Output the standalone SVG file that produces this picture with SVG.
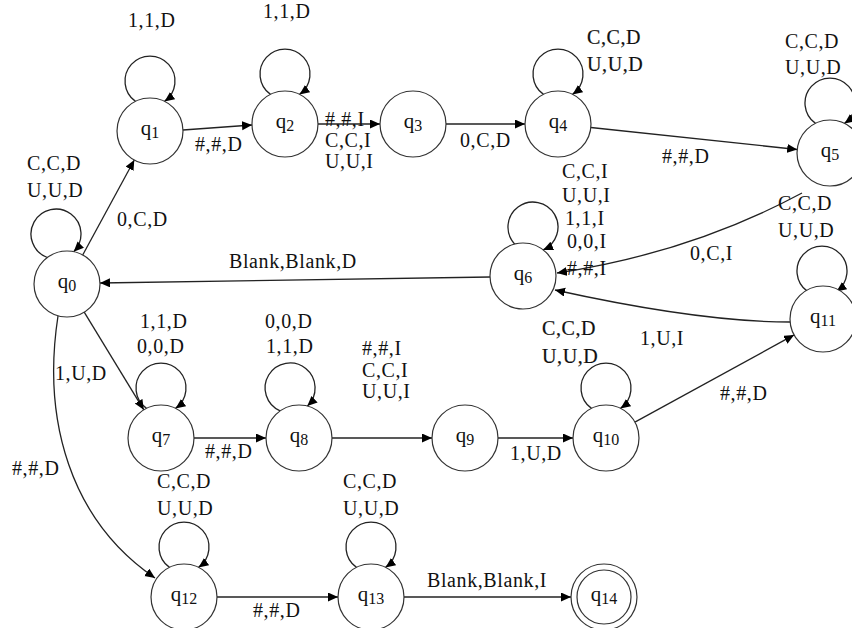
<svg xmlns="http://www.w3.org/2000/svg" width="852" height="628" viewBox="0 0 852 628">
<defs>
<marker id="ah" markerUnits="userSpaceOnUse" markerWidth="11" markerHeight="10" refX="10" refY="4.5" orient="auto">
<path d="M0,0 L10,4.5 L0,9 z" fill="#000"/>
</marker>
</defs>
<style>
.n circle{fill:#fff;stroke:#333;stroke-width:1.2}
.n text{font-family:"Liberation Serif",serif;font-size:21px;fill:#111;text-anchor:middle}
.n tspan{font-size:16px}
#edges path,#edges line{fill:none;stroke:#222;stroke-width:1.3;marker-end:url(#ah)}
.lb{font-family:"Liberation Serif",serif;font-size:20px;letter-spacing:0.6px;fill:#111}
.dk{stroke:#111;stroke-width:0.2}
</style>
<rect width="852" height="628" fill="#fff"/>

<g id="edges">
<!-- self loops -->
<path d="M47.3,257.5 A25,25 0 1 1 73.7,251.7"/>
<path d="M135.5,101.4 A25,25 0 1 1 164.5,101.4"/>
<path d="M270.5,94.4 A25,25 0 1 1 299.5,94.4"/>
<path d="M543.5,94.4 A25,25 0 1 1 572.5,94.4"/>
<path d="M815.5,123.4 A25,25 0 1 1 844.5,123.4"/>
<path d="M514.7,244.1 A25,25 0 1 1 543.1,249.9"/>
<path d="M807.5,291.4 A25,25 0 1 1 836.5,291.4"/>
<path d="M146.5,408.4 A25,25 0 1 1 175.5,408.4"/>
<path d="M280.1,410.9 A25,25 0 1 1 307.3,406.1"/>
<path d="M591.5,408.4 A25,25 0 1 1 620.5,408.4"/>
<path d="M169.5,567.4 A25,25 0 1 1 198.5,567.4"/>
<path d="M356.5,567.4 A25,25 0 1 1 385.5,567.4"/>
<!-- transitions -->
<line x1="82.7" y1="255" x2="134.3" y2="160"/>
<line x1="183" y1="130" x2="252" y2="125"/>
<line x1="318" y1="124" x2="380" y2="124"/>
<line x1="446" y1="124" x2="525" y2="124"/>
<line x1="590.8" y1="127.5" x2="797.2" y2="149.5"/>
<path d="M802,193 Q690,253 557,273"/>
<path d="M790,322 Q700,322 555,290"/>
<line x1="490" y1="277" x2="100" y2="283"/>
<line x1="84.2" y1="312.2" x2="143.8" y2="409.8"/>
<line x1="194" y1="438" x2="266" y2="438"/>
<line x1="332" y1="438" x2="432" y2="438"/>
<line x1="498" y1="438" x2="573" y2="438"/>
<line x1="634.9" y1="422.1" x2="794.1" y2="334.9"/>
<path d="M58,316 C42,420 70,520 155,578"/>
<line x1="217" y1="597" x2="338" y2="597"/>
<line x1="404" y1="597" x2="571" y2="597"/>
</g>

<g id="q0" class="n"><circle cx="67" cy="284" r="33"/><text x="67" y="288">q<tspan dy="3">0</tspan></text></g>
<g id="q1" class="n"><circle cx="150" cy="131" r="33"/><text x="150" y="135">q<tspan dy="3">1</tspan></text></g>
<g id="q2" class="n"><circle cx="285" cy="124" r="33"/><text x="285" y="128">q<tspan dy="3">2</tspan></text></g>
<g id="q3" class="n"><circle cx="413" cy="124" r="33"/><text x="413" y="128">q<tspan dy="3">3</tspan></text></g>
<g id="q4" class="n"><circle cx="558" cy="124" r="33"/><text x="558" y="128">q<tspan dy="3">4</tspan></text></g>
<g id="q5" class="n"><circle cx="830" cy="153" r="33"/><text x="830" y="157">q<tspan dy="3">5</tspan></text></g>
<g id="q6" class="n"><circle cx="523" cy="276" r="33"/><text x="523" y="280">q<tspan dy="3">6</tspan></text></g>
<g id="q7" class="n"><circle cx="161" cy="438" r="33"/><text x="161" y="442">q<tspan dy="3">7</tspan></text></g>
<g id="q8" class="n"><circle cx="299" cy="438" r="33"/><text x="299" y="442">q<tspan dy="3">8</tspan></text></g>
<g id="q9" class="n"><circle cx="465" cy="438" r="33"/><text x="465" y="442">q<tspan dy="3">9</tspan></text></g>
<g id="q10" class="n"><circle cx="606" cy="438" r="33"/><text x="606" y="442">q<tspan dy="3">10</tspan></text></g>
<g id="q11" class="n"><circle cx="823" cy="319" r="33"/><text x="823" y="323">q<tspan dy="3">11</tspan></text></g>
<g id="q12" class="n"><circle cx="184" cy="597" r="33"/><text x="184" y="601">q<tspan dy="3">12</tspan></text></g>
<g id="q13" class="n"><circle cx="371" cy="597" r="33"/><text x="371" y="601">q<tspan dy="3">13</tspan></text></g>
<g id="q14" class="n"><circle cx="604" cy="597" r="33"/><circle cx="604" cy="597" r="27"/><text x="604" y="601">q<tspan dy="3">14</tspan></text></g>

<g id="labels" class="lb">
<text x="128" y="27">1,1,D</text>
<text x="263" y="18">1,1,D</text>
<text x="195" y="151">#,#,D</text>
<text x="325" y="126">#,#,I</text>
<text x="325" y="147">C,C,I</text>
<text x="325" y="168">U,U,I</text>
<text x="460" y="147">0,C,D</text>
<text x="587" y="44" class="dk">C,C,D</text>
<text x="587" y="71" class="dk">U,U,D</text>
<text x="785" y="48">C,C,D</text>
<text x="785" y="74">U,U,D</text>
<text x="662" y="163">#,#,D</text>
<text x="27" y="170">C,C,D</text>
<text x="27" y="197">U,U,D</text>
<text x="117" y="226">0,C,D</text>
<text x="229" y="268">Blank,Blank,D</text>
<text x="562" y="178">C,C,I</text>
<text x="562" y="202">U,U,I</text>
<text x="565" y="225">1,1,I</text>
<text x="567" y="248">0,0,I</text>
<text x="567" y="275">#,#,I</text>
<text x="690" y="260">0,C,I</text>
<text x="778" y="210">C,C,D</text>
<text x="778" y="237">U,U,D</text>
<text x="640" y="345">1,U,I</text>
<text x="140" y="328">1,1,D</text>
<text x="137" y="353">0,0,D</text>
<text x="265" y="328">0,0,D</text>
<text x="266" y="353">1,1,D</text>
<text x="205" y="458">#,#,D</text>
<text x="362" y="355">#,#,I</text>
<text x="362" y="377">C,C,I</text>
<text x="362" y="398">U,U,I</text>
<text x="55" y="380">1,U,D</text>
<text x="542" y="335" class="dk">C,C,D</text>
<text x="542" y="363" class="dk">U,U,D</text>
<text x="510" y="460">1,U,D</text>
<text x="720" y="400">#,#,D</text>
<text x="12" y="475">#,#,D</text>
<text x="157" y="488">C,C,D</text>
<text x="157" y="515">U,U,D</text>
<text x="253" y="617">#,#,D</text>
<text x="343" y="488">C,C,D</text>
<text x="343" y="515">U,U,D</text>
<text x="427" y="587">Blank,Blank,I</text>
</g>
</svg>
